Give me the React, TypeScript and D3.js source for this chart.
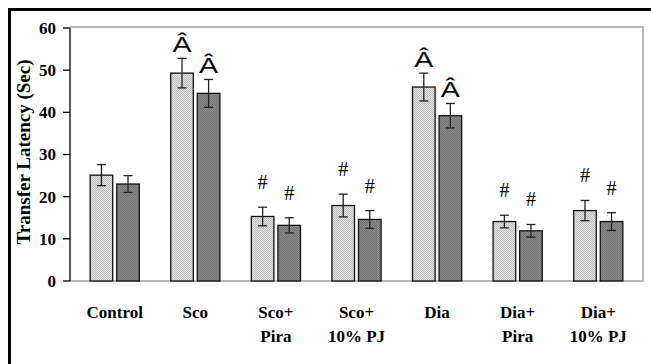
import React from 'react';
import * as d3 from 'd3';

const categories = ['Control', 'Sco', 'Sco+\nPira', 'Sco+\n10% PJ', 'Dia', 'Dia+\nPira', 'Dia+\n10% PJ'];
const seriesA = [25.1, 49.3, 15.3, 17.9, 46.0, 14.1, 16.7];
const errorsA = [2.5, 3.5, 2.2, 2.7, 3.3, 1.5, 2.4];
const seriesB = [23.0, 44.5, 13.2, 14.6, 39.2, 11.9, 14.1];
const errorsB = [2.0, 3.3, 1.8, 2.1, 2.9, 1.5, 2.1];
const marks = ['', 'Â', '#', '#', 'Â', '#', '#'];
const yTicks = [0, 10, 20, 30, 40, 50, 60];

const W = 651;
const H = 364;
const margin = { top: 28, right: 8, bottom: 83, left: 70 };

export default function App() {
  const x = d3
    .scaleBand<string>()
    .domain(categories)
    .range([margin.left, W - margin.right])
    .paddingInner(0.39)
    .paddingOuter(0.25);
  const y = d3.scaleLinear().domain([0, 60]).range([H - margin.bottom, margin.top]);
  const bw = (x.bandwidth() - 4) / 2;
  const serif = '"Liberation Serif", "Times New Roman", serif';

  const series = [
    { vals: seriesA, errs: errorsA, fill: 'url(#patLight)', off: 0 },
    { vals: seriesB, errs: errorsB, fill: 'url(#patDark)', off: bw + 4 },
  ];

  return (
    <svg width={W} height={H} style={{ position: 'absolute', left: 0, top: 0 }}>
      <defs>
        <pattern id="patLight" width={2} height={2} patternUnits="userSpaceOnUse">
          <rect width={2} height={2} fill="#e4e4e4" />
          <rect width={1} height={1} fill="#bcbcbc" />
          <rect x={1} y={1} width={1} height={1} fill="#bcbcbc" />
        </pattern>
        <pattern id="patDark" width={2} height={2} patternUnits="userSpaceOnUse">
          <rect width={2} height={2} fill="#8c8c8c" />
          <rect width={1} height={1} fill="#727272" />
          <rect x={1} y={1} width={1} height={1} fill="#727272" />
        </pattern>
      </defs>
      <rect width={W} height={H} fill="#fff" />
      {/* outer frame */}
      <line x1={8} x2={W} y1={9.5} y2={9.5} stroke="#000" strokeWidth={3} />
      <line x1={9.5} x2={9.5} y1={8} y2={H} stroke="#000" strokeWidth={3} />
      {/* plot border */}
      <path
        d={`M${margin.left},${margin.top - 1}H${W - margin.right}V${y(0)}H${margin.left}`}
        fill="none"
        stroke="#a0a0a0"
        strokeWidth={1.5}
      />
      {series.map((s, si) =>
        categories.map((c, i) => {
          const bx = (x(c) as number) + s.off;
          const cx = bx + bw / 2;
          const top = y(s.vals[i] + s.errs[i]);
          return (
            <g key={`${si}-${i}`}>
              <rect
                x={bx}
                y={y(s.vals[i])}
                width={bw}
                height={y(0) - y(s.vals[i])}
                fill={s.fill}
                stroke="#111"
                strokeWidth={1.3}
              />
              <g stroke="#222" strokeWidth={1.3}>
                <line x1={cx} x2={cx} y1={top} y2={y(s.vals[i] - s.errs[i])} />
                <line x1={cx - 4.5} x2={cx + 4.5} y1={top} y2={top} />
                <line x1={cx - 4.5} x2={cx + 4.5} y1={y(s.vals[i] - s.errs[i])} y2={y(s.vals[i] - s.errs[i])} />
              </g>
              {marks[i] === 'Â' ? (
                <text
                  transform={`translate(${cx},${top - 6}) scale(1.3,1)`}
                  textAnchor="middle"
                  fontFamily='"Liberation Sans", Arial, sans-serif'
                  fontSize={22}
                >
                  Â
                </text>
              ) : marks[i] === '#' ? (
                <text x={cx} y={top - 18} textAnchor="middle" fontFamily={serif} fontSize={20}>
                  #
                </text>
              ) : null}
            </g>
          );
        })
      )}
      {/* y axis */}
      <line x1={margin.left} x2={margin.left} y1={margin.top} y2={y(0)} stroke="#000" strokeWidth={1.3} />
      {yTicks.map((t) => (
        <g key={t}>
          <line x1={margin.left - 7} x2={margin.left} y1={y(t)} y2={y(t)} stroke="#000" strokeWidth={1.3} />
          <text
            x={margin.left - 14}
            y={y(t)}
            dy="0.35em"
            textAnchor="end"
            fontFamily={serif}
            fontWeight="bold"
            fontSize={17}
          >
            {t}
          </text>
        </g>
      ))}
      <text
        transform={`translate(30,152) rotate(-90)`}
        textAnchor="middle"
        fontFamily={serif}
        fontWeight="bold"
        fontSize={19}
      >
        Transfer Latency (Sec)
      </text>
      {categories.map((c) => {
        const lines = c.split('\n');
        const cx = (x(c) as number) + x.bandwidth() / 2;
        return (
          <text key={c} x={cx} textAnchor="middle" fontFamily={serif} fontWeight="bold" fontSize={17}>
            {lines.map((l, k) => (
              <tspan key={k} x={cx} y={318 + k * 24}>
                {l}
              </tspan>
            ))}
          </text>
        );
      })}
    </svg>
  );
}
